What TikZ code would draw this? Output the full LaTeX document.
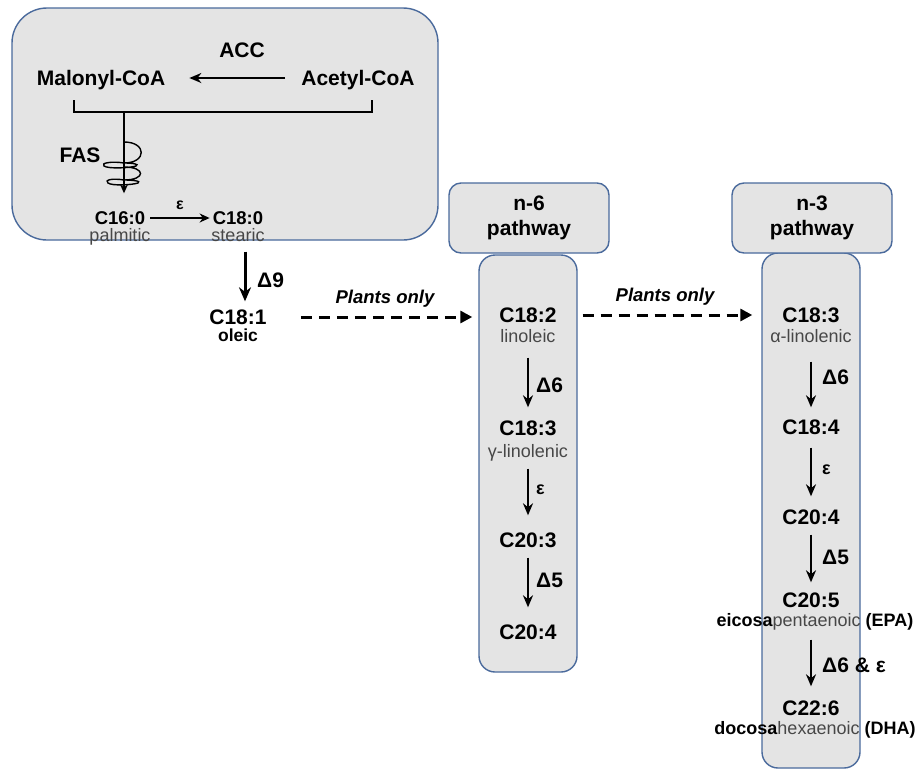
\documentclass[tikz,border=0pt]{standalone}
\usepackage{fontspec}
\setmainfont{Liberation Sans}
\usetikzlibrary{arrows.meta}
\definecolor{boxgray}{HTML}{E4E4E4}
\definecolor{boxblue}{HTML}{4A6A9C}
\definecolor{subgray}{HTML}{474747}
\tikzset{
  box/.style={draw=boxblue, fill=boxgray, line width=1.4pt},
  lab/.style={font=\fontsize{21}{24}\selectfont\bfseries, inner sep=0pt, text height=15pt, text depth=0pt},
  smlab/.style={font=\fontsize{18.5}{20}\selectfont\bfseries, inner sep=0pt, text height=13pt, text depth=0pt},
  sub/.style={font=\fontsize{18}{20}\selectfont, text=subgray, inner sep=0pt, text height=13pt, text depth=4pt},
  enz/.style={font=\fontsize{21}{24}\selectfont\bfseries, inner sep=0pt, anchor=west},
  arr/.style={line width=2pt, -{Stealth[length=12pt,width=10pt]}, shorten <=11pt, shorten >=13pt},
  dasharr/.style={line width=3pt, dash pattern=on 11pt off 7pt, -{Triangle[length=12pt,width=12pt]}},
}
\begin{document}
\begin{tikzpicture}[x=1pt,y=-1pt]
\useasboundingbox[fill=white] (0,0) rectangle (916,772);

% boxes
\node[box, rounded corners=35pt, minimum width=426pt, minimum height=232pt] (main) at (225,124) {};
\node[box, rounded corners=16pt, minimum width=98pt, minimum height=417pt] (col6) at (528,463.5) {};
\node[box, rounded corners=16pt, minimum width=98pt, minimum height=515pt] (col3) at (811,510.5) {};
\node[box, rounded corners=12pt, minimum width=160pt, minimum height=70pt, align=center,
      font=\fontsize{21}{25}\selectfont\bfseries] (h6) at (529,218) {n-6\\pathway};
\node[box, rounded corners=12pt, minimum width=160pt, minimum height=70pt, align=center,
      font=\fontsize{21}{25}\selectfont\bfseries] (h3) at (812,218) {n-3\\pathway};

% top box content
\node[lab] (mal) at (101,78) {Malonyl-CoA};
\node[lab] (acet) at (358,78) {Acetyl-CoA};
\node[lab] (acc) at (242,50) {ACC};
\draw[line width=1.8pt, -{Stealth[length=12pt,width=10pt]}, shorten <=16pt, shorten >=24pt] (acet.west) -- (mal.east);

\coordinate (bl) at (74,100);
\coordinate (br) at (372,100);
\coordinate (stem) at (124,112);
\draw[line width=1.6pt] (bl) |- (stem) -| (br);
\node[lab] (fas) at (80,155) {FAS};
\node[smlab] (c160) at (120,218) {C16:0};
\node[sub] (palm) at (120,237) {palmitic};
\node[smlab] (c180) at (238,218) {C18:0};
\node[sub] (stear) at (238,237) {stearic};
\node[font=\fontsize{16}{18}\selectfont\bfseries, inner sep=0pt] (eps0) at (180,205) {ε};
\draw[line width=1.5pt, -{Stealth[length=9pt,width=8pt]}] (stem) -- (stem |- c160.north) [shorten >=18pt];
% coil
\draw[line width=1.4pt]
  (124,142) .. controls (147,142) and (147,163) .. (124,163)
  (124,163) .. controls (112,161) and (100,163) .. (104,166)
            .. controls (108,169) and (130,168) .. (136,166)
            .. controls (140,164) and (132,163) .. (124,163)
  (124,167) .. controls (146,167) and (146,180) .. (124,180)
  (124,180) .. controls (112,178) and (104,180) .. (108,183)
            .. controls (112,186) and (132,185) .. (138,183)
            .. controls (142,181) and (132,180) .. (124,180);
\draw[line width=1.8pt, -{Stealth[length=10pt,width=9pt]}, shorten <=5pt, shorten >=3pt] (c160.east) -- (c180.west);

% oleic
\node[lab] (c181) at (238,317) {C18:1};
\node[font=\fontsize{17.5}{20}\selectfont\bfseries, inner sep=0pt, text height=13pt, text depth=4pt] (ole) at (238,337) {oleic};
\draw[line width=3pt, -{Stealth[length=14pt,width=12pt]}, shorten <=6pt, shorten >=8pt] ([xshift=7pt]stear.south) -- ([xshift=7pt]c181.north);
\node[enz] (d9) at (257,280) {Δ9};

% plants only arrows
\node[font=\fontsize{18.5}{20}\selectfont\bfseries\itshape, inner sep=0pt] (po1) at (385,299) {Plants only};
\node[font=\fontsize{18.5}{20}\selectfont\bfseries\itshape, inner sep=0pt] (po2) at (665,297) {Plants only};

% n-6 column
\node[lab] (a182) at (528,315) {C18:2};
\node[sub] (a182s) at (528,338) {linoleic};
\node[lab] (a183) at (528,428) {C18:3};
\node[sub] (a183s) at (528,453) {γ-linolenic};
\node[lab] (a203) at (528,540) {C20:3};
\node[lab] (a204) at (528,632) {C20:4};
\draw[arr] (a182s.south) -- (a183.north);
\draw[arr, shorten <=7pt, shorten >=17pt] (a183s.south) -- (a203.north);
\draw[arr, shorten <=10pt, shorten >=17pt] (a203.south) -- (a204.north);
\node[enz] (e61) at (536,385) {Δ6};
\node[enz, font=\fontsize{18}{20}\selectfont\bfseries] (e62) at (536,490) {ε};
\node[enz] (e63) at (536,580) {Δ5};

% n-3 column
\node[lab] (b183) at (811,315) {C18:3};
\node[sub] (b183s) at (811,338) {α-linolenic};
\node[lab] (b184) at (811,427) {C18:4};
\node[lab] (b204) at (811,517) {C20:4};
\node[lab] (b205) at (811,600) {C20:5};
\node[font=\fontsize{18}{20}\selectfont, text=subgray, inner sep=0pt, text height=13pt, text depth=4pt] (b205s) at (815,622)
  {\textcolor{black}{\bfseries eicosa}pentaenoic \textcolor{black}{\bfseries (EPA)}};
\node[lab] (b226) at (811,708) {C22:6};
\node[font=\fontsize{18}{20}\selectfont, text=subgray, inner sep=0pt, text height=13pt, text depth=4pt] (b226s) at (815,730)
  {\textcolor{black}{\bfseries docosa}hexaenoic \textcolor{black}{\bfseries (DHA)}};
\draw[arr, shorten <=15pt, shorten >=12pt] (b183s.south) -- (b184.north);
\draw[arr, shorten <=13pt, shorten >=13pt] (b184.south) -- (b204.north);
\draw[arr, shorten <=10pt, shorten >=10pt] (b204.south) -- (b205.north);
\draw[arr, shorten <=9pt, shorten >=14pt] (b205s.south -| b205) -- (b226.north);
\node[enz] (e31) at (822,377) {Δ6};
\node[enz, font=\fontsize{18}{20}\selectfont\bfseries] (e32) at (822,470) {ε};
\node[enz] (e33) at (822,557) {Δ5};
\node[enz] (e34) at (822,665) {Δ6 \& ε};

% dashed arrows
\draw[dasharr, shorten <=34pt, shorten >=6pt] (c181.east) -- (c181 -| col6.west);
\draw[dasharr, shorten <=5pt, shorten >=9pt] (a182 -| col6.east) -- (a182 -| col3.west);
\end{tikzpicture}
\end{document}
